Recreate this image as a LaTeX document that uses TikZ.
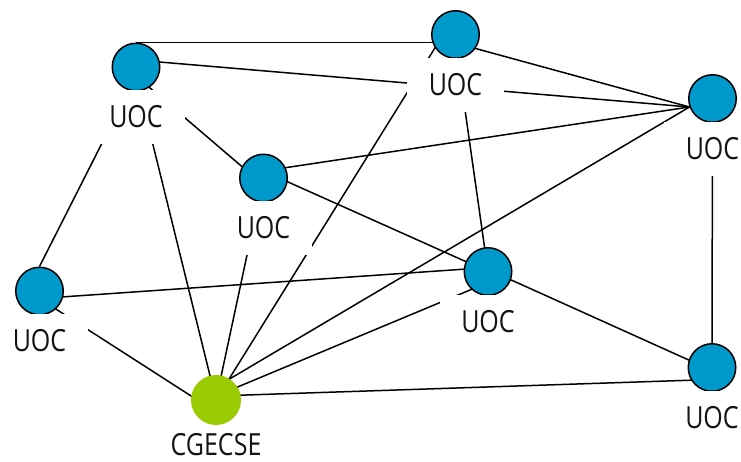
\documentclass[tikz,border=0pt]{standalone}
\usepackage{fontspec}
\newfontfamily\labfont{Open Sans}[FakeStretch=0.82]
\usetikzlibrary{calc}
\definecolor{uocblue}{RGB}{0,153,204}
\definecolor{hubgreen}{RGB}{153,204,0}
\begin{document}
\begin{tikzpicture}[x=1pt,y=-1pt,
  edge/.style={draw=black,line width=1.5pt},
  uoc/.style={circle,draw=black,line width=1.5pt,fill=uocblue,minimum size=47.5pt,inner sep=0pt},
  hub/.style={circle,fill=hubgreen,minimum size=50pt,inner sep=0pt},
  lab/.style={rectangle,fill=white,minimum width=97pt,minimum height=54pt,inner sep=0pt,
    font=\labfont\fontsize{30.5}{36}\selectfont,text=black!92},
  hublab/.style={lab,minimum height=20pt,inner sep=0pt}]
\useasboundingbox (0,0) rectangle (741,461);
% node centres
\coordinate (A) at (136,67);
\coordinate (B) at (455.5,34.5);
\coordinate (C) at (712.5,98.5);
\coordinate (D) at (263.5,178);
\coordinate (E) at (488,271.5);
\coordinate (F) at (39.5,291);
\coordinate (G) at (712,367.5);
\coordinate (H) at (216,400);
% connection points
\coordinate (An) at ($(A)+(0,-24.5)$);
\coordinate (Au) at ($(A)+(0,-7)$);
\coordinate (Al) at ($(A)+(0,9)$);
\coordinate (Bp) at ($(B)+(0,8.5)$);
\coordinate (Bq) at ($(B)+(-17.5,8.5)$);
\coordinate (Cp) at ($(C)+(-23,8.5)$);
\coordinate (Du) at ($(D)+(0,-7)$);
\coordinate (Dl) at ($(D)+(0,7)$);
\coordinate (Ea) at ($(E)+(0,-4)$);
\coordinate (Eb) at ($(E)+(0,11)$);
\coordinate (Ec) at ($(E)+(0,-2)$);
\coordinate (Fn) at ($(F)+(0,-24.5)$);
\coordinate (Fp) at ($(F)+(0,7.5)$);
\coordinate (Ga) at ($(G)+(0,3)$);
\coordinate (Gb) at ($(G)+(0,12)$);
\coordinate (Ha) at ($(H)+(0,-13)$);
\coordinate (Hb) at ($(H)+(0,12)$);
\coordinate (Hc) at ($(H)+(0,-4)$);
% connectors
\draw[edge] (An) -- (An -| B);
\draw[edge] (Au) -- (Cp);
\draw[edge] (Bp) -- (Cp);
\draw[edge] (Bp) -- (E);
\draw[edge] (Bq) -- (H);
\draw[edge] (Al) -- (Dl);
\draw[edge] (Al) -- (Fn);
\draw[edge] (Al) -- (H);
\draw[edge] (Du) -- (Cp);
\draw[edge] (Du) -- (E);
\draw[edge] (D) -- (H);
\draw[edge] (Cp) -- (Ha);
\draw[edge] (C) -- (G);
\draw[edge] (Fp) -- (Ea);
\draw[edge] (Fp) -- (Hb);
\draw[edge] (Ec) -- (Ga);
\draw[edge] (Hc) -- (Gb);
\draw[edge] (Hc) -- (Eb);
% circles
\node[uoc] (nA) at (A) {};
\node[uoc] (nB) at (B) {};
\node[uoc] (nC) at (C) {};
\node[uoc] (nD) at (D) {};
\node[uoc] (nE) at (E) {};
\node[uoc] (nF) at (F) {};
\node[uoc] (nG) at (G) {};
\node[hub] (nH) at (H) {};
% labels
\node[lab] (lA) at ($(A)+(0,50)$) {UOC};
\node[lab] (lB) at ($(B)+(0,50)$) {UOC};
\node[lab] (lC) at ($(C)+(0,50)$) {UOC};
\node[lab] (lD) at ($(D)+(0,50)$) {UOC};
\node[lab] (lE) at ($(E)+(0,50)$) {UOC};
\node[lab] (lF) at ($(F)+(0,50)$) {UOC};
\node[lab] (lG) at ($(G)+(0,50)$) {UOC};
\node[hublab] (lH) at ($(H)+(0,45)$) {CGECSE};
\end{tikzpicture}
\end{document}
